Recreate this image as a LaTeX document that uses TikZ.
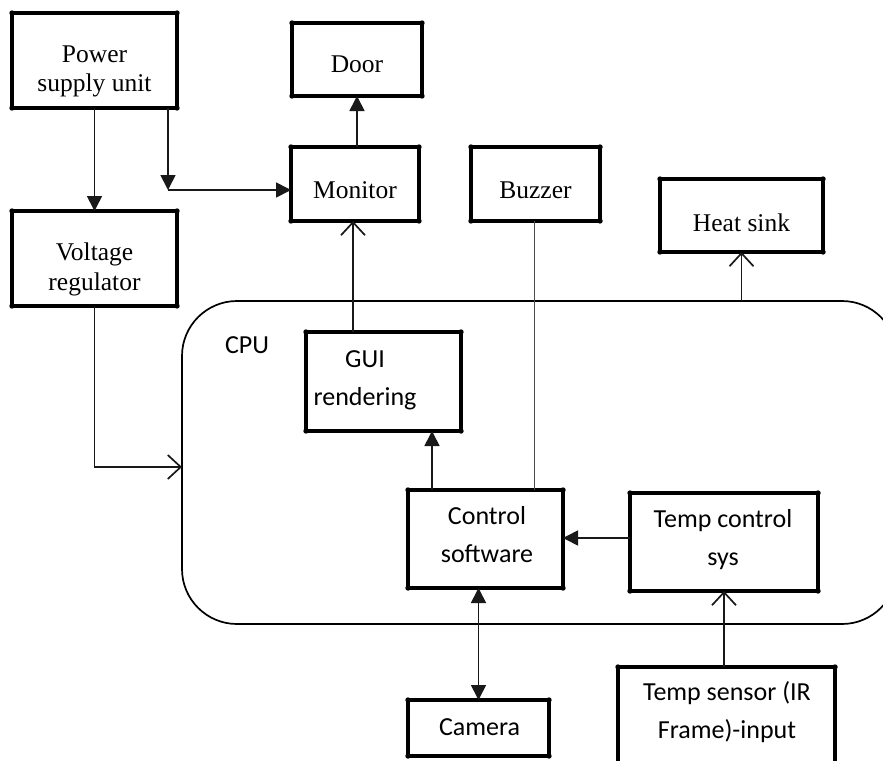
\documentclass[tikz,border=0pt]{standalone}
\usepackage{fontspec}
\setmainfont{Liberation Serif}
\newfontfamily\calfont{Carlito}
\usetikzlibrary{arrows.meta}
\begin{document}
\begin{tikzpicture}[x=1pt,y=-1pt,
  box/.style={draw, line width=3.2pt, rectangle, inner sep=0pt, outer sep=0pt},
  serif/.style={anchor=base, align=center, font=\fontsize{25.5}{29.5}\selectfont, inner sep=0pt},
  sans/.style={anchor=base, align=center, font=\calfont\fontsize{26}{37.5}\selectfont, inner sep=0pt},
  conn/.style={line width=1.7pt, draw=black!90},
  arrF/.style={conn, -{Triangle[length=15pt,width=15pt]}},
  arrFF/.style={conn, {Triangle[length=15pt,width=15pt]}-{Triangle[length=15pt,width=15pt]}},
  arrO/.style={conn, -{Straight Barb[length=13pt,width=24pt]}},
  thinline/.style={line width=1pt, draw=black!70},
]
\clip (0,0) rectangle (883,760);
\fill[white] (0,0) rectangle (883,760);

% CPU container
\node[draw, line width=1.7pt, rounded corners=55pt, minimum width=715pt, minimum height=323pt, inner sep=0pt, outer sep=0pt] (cpu) at (539.5,462.5) {};
\node[sans] (cpul) at (247,353) {CPU};

% boxes
\node[box, minimum width=165pt, minimum height=95pt] (psu) at (94.5,60.5) {};
\node[box, minimum width=165pt, minimum height=95pt] (vr) at (94.5,258.5) {};
\node[box, minimum width=130pt, minimum height=73pt] (door) at (357,59.5) {};
\node[box, minimum width=128pt, minimum height=74pt] (mon) at (355,184) {};
\node[box, minimum width=129pt, minimum height=74pt] (buz) at (535.5,184) {};
\node[box, minimum width=163pt, minimum height=73pt] (heat) at (741.5,215.5) {};
\node[box, minimum width=155pt, minimum height=99pt] (gui) at (383.5,381.5) {};
\node[box, minimum width=155pt, minimum height=98pt] (cs) at (485.5,539) {};
\node[box, minimum width=188pt, minimum height=98pt] (tcs) at (724,542) {};
\node[box, minimum width=141pt, minimum height=56pt] (cam) at (478.5,728) {};
\node[box, minimum width=217pt, minimum height=123pt] (tsen) at (726.5,728.5) {};

\foreach \n in {psu,vr,door,mon,buz,heat,gui,cs,tcs,cam,tsen}{
  \foreach \a in {north west,north east,south west,south east}{
    \fill (\n.\a) circle (2.7pt);
  }
}

% texts (anchor = baseline of last line)
\node[serif] (psut) at (94.5,92) {Power\\supply unit};
\node[serif] (vrt) at (94.5,290) {Voltage\\regulator};
\node[serif] (doort) at (357,73) {Door};
\node[serif] (mont) at (355,198) {Monitor};
\node[serif] (buzt) at (535.5,198) {Buzzer};
\node[serif] (heatt) at (741.5,231) {Heat sink};
\node[sans] (guit) at (365,405) {GUI\\rendering};
\node[sans] (cst) at (487,562) {Control\\software};
\node[sans] (tcst) at (723,565) {Temp control\\sys};
\node[sans] (camt) at (479.5,735) {Camera};
\node[sans] (tsent) at (727,738) {Temp sensor (IR\\Frame)-input};

% connectors
\coordinate (pj) at (168,190);
\draw[arrF] (psu.south) -- (vr.north);
\draw[arrF] (psu.south -| pj) -- (pj);
\draw[arrF] (pj) -- (pj -| mon.west);
\draw[arrF] (mon.north -| door.south) -- (door.south);
\draw[arrO] ([xshift=-30.5pt]gui.north) -- ([xshift=-30.5pt]gui.north |- mon.south);
\draw[arrF] ([xshift=-53.5pt]cs.north) -- ([xshift=-53.5pt]cs.north |- gui.south);
\draw[thinline] ([xshift=-1.5pt]buz.south) -- ([xshift=-1.5pt]buz.south |- cs.north);
\draw[arrO] (cpu.north -| heat.south) -- (heat.south);
\draw[arrO] (vr.south) |- ([yshift=-4.5pt]cpu.west);
\draw[arrF] ([yshift=1pt]tcs.west |- cs.east) -- ([yshift=1pt]cs.east);
\draw[arrO] (tsen.north -| tcs.south) -- (tcs.south);
\draw[arrFF] (cs.south -| cam.north) -- (cam.north);
\end{tikzpicture}
\end{document}
